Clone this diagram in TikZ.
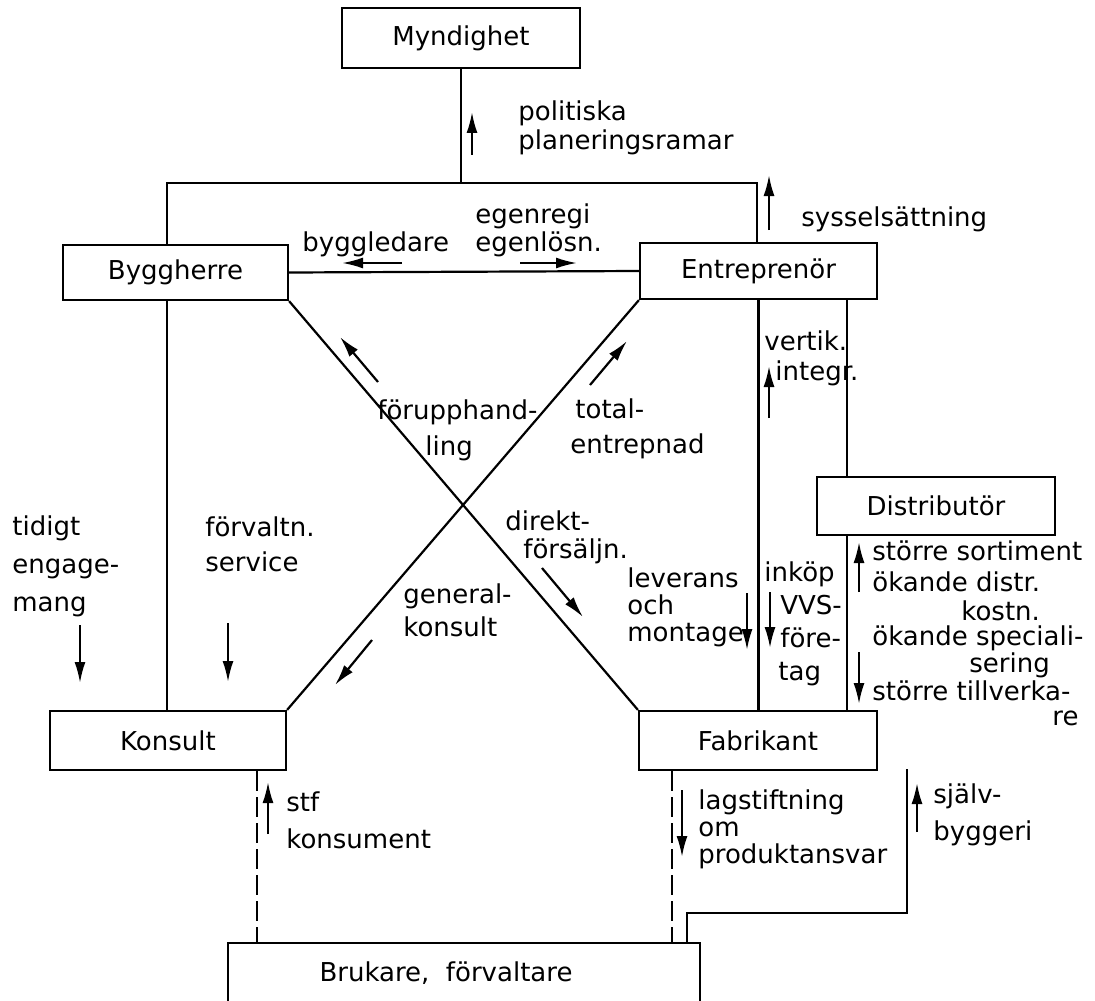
\documentclass[tikz,border=0pt]{standalone}
\usepackage{fontspec}
\setmainfont{DejaVu Sans}
\usetikzlibrary{arrows.meta, positioning}

\begin{document}
\begin{tikzpicture}[
    x=0.5pt, y=-0.5pt,
    box/.style={rectangle, draw, line width=1.1pt, font=\fontsize{13}{15}\selectfont, inner sep=0pt},
    line/.style={line width=1.1pt},
    dashline/.style={line width=1.1pt, dash pattern=on 10pt off 3pt},
    flow/.style={-{Latex[length=10.5pt, width=5.5pt]}, line width=1.1pt},
    lbl/.style={font=\fontsize{13}{#1}\selectfont, align=left, inner sep=0pt, anchor=base west},
    lbl/.default=16pt,
]
  \useasboundingbox (0,0) rectangle (1095,1000);

  \node[box, minimum width=119pt, minimum height=30pt] (myndighet) at (461,38) {Myndighet};
  \node[box, minimum width=112.5pt, minimum height=27.5pt] (byggherre) at (175.5,272.5) {Byggherre};
  \node[box, minimum width=118.5pt, minimum height=28pt] (entreprenor) at (758.5,271) {Entreprenör};
  \node[box, minimum width=118pt, minimum height=29.5pt] (konsult) at (168,740.5) {Konsult};
  \node[box, minimum width=119pt, minimum height=29.5pt] (fabrikant) at (758,740.5) {Fabrikant};
  \node[box, minimum width=119pt, minimum height=29pt] (distributor) at (936,506) {Distributör};
  \node[box, minimum width=236pt, minimum height=30pt] (brukare) at (464,973) {\hspace*{-18pt}Brukare,\ \ förvaltare};

  \coordinate (tl) at (167,183);
  \coordinate (tr) at (757,183);
  \coordinate (dl) at (847,0);
  \coordinate (kd) at (257,0);
  \coordinate (fd) at (672,0);
  \coordinate (sb1) at (687,913);
  \coordinate (sb2) at (907,913);
  \coordinate (sbend) at (907,769);

  \draw[line] (myndighet) -- (myndighet.south |- tl);
  \draw[line] (byggherre.north -| tl) -- (tl) -- (tr) -- (entreprenor.north -| tr);
  \draw[line] (byggherre.south -| tl) -- (konsult.north -| tl);
  \draw[line] (byggherre.east) -- (entreprenor.west);
  \draw[line] (byggherre.south east) -- (fabrikant.north west);
  \draw[line] (konsult.north east) -- (entreprenor.south west);
  \draw[line] (entreprenor.south) -- (entreprenor.south |- fabrikant.north);
  \draw[line] (entreprenor.south -| dl) -- (distributor.north -| dl);
  \draw[line] (distributor.south -| dl) -- (fabrikant.north -| dl);
  \draw[dashline] (konsult.south -| kd) -- (brukare.north -| kd);
  \draw[dashline] (fabrikant.south -| fd) -- (brukare.north -| fd);
  \draw[line] (brukare.north -| sb1) -- (sb1) -- (sb2) -- (sbend);

  \draw[flow] (472,155) -- (472,112);
  \draw[flow] (769,230) -- (769,175);
  \draw[flow] (402,263) -- (342,263);
  \draw[flow] (520,263) -- (577,263);
  \draw[flow] (378,382) -- (340,337);
  \draw[flow] (590,385) -- (627,341);
  \draw[flow] (542,568) -- (583,617);
  \draw[flow] (372,640) -- (335,685);
  \draw[flow] (80,625) -- (80,683);
  \draw[flow] (228,623) -- (228,682);
  \draw[flow] (747,593) -- (747,650);
  \draw[flow] (769,418) -- (769,366);
  \draw[flow] (770,592) -- (770,648);
  \draw[flow] (859,592) -- (859,542);
  \draw[flow] (859,652) -- (859,704);
  \draw[flow] (268,834) -- (268,782);
  \draw[flow] (682,790) -- (682,857);
  \draw[flow] (917,832) -- (917,783);

  \node[lbl=14.5pt] (politiska) at (518,150) {politiska\\planeringsramar};
  \node[lbl] (syssel) at (801,226) {sysselsättning};
  \node[lbl] (byggledare) at (302,251) {byggledare};
  \node[lbl=8pt] (egenregi) at (475,251) {egenregi\\egenlösn.};
  \node[lbl=18pt] (forupph) at (377,455) {förupphand-\\\hspace*{24pt}ling};
  \node[lbl=17.5pt] (total) at (570,453) {\hspace*{2.5pt}total-\\entrepnad};
  \node[lbl=19pt] (tidigt) at (12,611) {tidigt\\engage-\\mang};
  \node[lbl=17.5pt] (forvaltn) at (205,571) {förvaltn.\\service};
  \node[lbl=14pt] (direkt) at (505,558) {direkt-\\\hspace*{9pt}försäljn.};
  \node[lbl=16.5pt] (general) at (403,636) {general-\\konsult};
  \node[lbl=13.5pt] (leverans) at (627,641) {leverans\\och\\montage};
  \node[lbl=15pt] (vertik) at (764,380) {vertik.\\\hspace*{5.5pt}integr.};
  \node[lbl=16.5pt] (inkop) at (764,680) {inköp\\\hspace*{8pt}VVS-\\\hspace*{8pt}före-\\\hspace*{7pt}tag};
  \node[lbl=12.5pt] (sortiment) at (872,725) {större sortiment\\[3pt]ökande distr.\\[2pt]\hspace*{44.5pt}kostn.\\ökande speciali-\\\hspace*{48.5pt}sering\\större tillverka-\\\hspace*{90pt}re};
  \node[lbl=18.5pt] (stf) at (286,848) {stf\\konsument};
  \node[lbl=13.5pt] (lagstift) at (698,863) {lagstiftning\\om\\produktansvar};
  \node[lbl=18.5pt] (sjalv) at (933,840) {själv-\\byggeri};
\end{tikzpicture}
\end{document}
